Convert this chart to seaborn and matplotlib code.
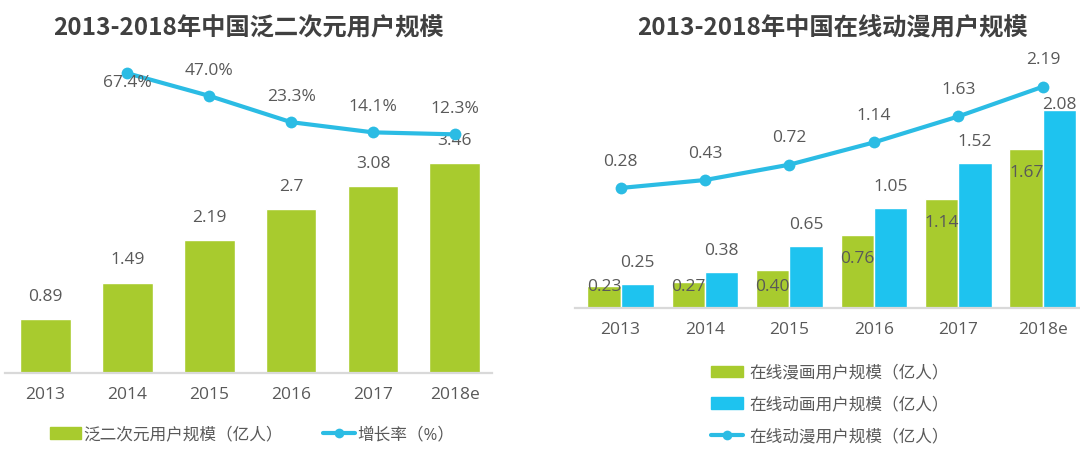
import numpy as np
import pandas as pd
import seaborn as sns
import matplotlib.pyplot as plt
from matplotlib.patches import Patch
from matplotlib.lines import Line2D

sns.set_style("white")
plt.rcParams['font.family'] = ['Open Sans', 'Noto Sans CJK SC', 'DejaVu Sans']

# data
years = ['2013', '2014', '2015', '2016', '2017', '2018e']
acg_users = [0.89, 1.49, 2.19, 2.7, 3.08, 3.46]
growth_years = ['2014', '2015', '2016', '2017', '2018e']
growth_rate = [67.4, 47.0, 23.3, 14.1, 12.3]
growth_labels = ['67.4%', '47.0%', '23.3%', '14.1%', '12.3%']

comic_users = [0.23, 0.27, 0.40, 0.76, 1.14, 1.67]
comic_labels = ['0.23', '0.27', '0.40', '0.76', '1.14', '1.67']
anime_users = [0.25, 0.38, 0.65, 1.05, 1.52, 2.08]
acg_online = [0.28, 0.43, 0.72, 1.14, 1.63, 2.19]

title_left = '2013-2018年中国泛二次元用户规模'
title_right = '2013-2018年中国在线动漫用户规模'
legend_left = ['泛二次元用户规模（亿人）', '增长率（%）']
legend_right = ['在线漫画用户规模（亿人）', '在线动画用户规模（亿人）', '在线动漫用户规模（亿人）']

GREEN = '#A8CB2E'
BLUE = '#1EC3EF'
LINE = '#2BBCE4'
TXT = '#595959'
AXIS = '#D9D9D9'

fig = plt.figure(figsize=(10.8, 4.5), dpi=100)


def style_axes(ax, xlim):
    for s in ['top', 'left', 'right']:
        ax.spines[s].set_visible(False)
    ax.spines['bottom'].set_color(AXIS)
    ax.spines['bottom'].set_linewidth(1.6)
    ax.set_yticks([])
    ax.set_xlabel('')
    ax.set_ylabel('')
    ax.tick_params(axis='x', length=0, pad=10, labelsize=12.5, labelcolor=TXT)
    ax.set_xlim(*xlim)


# ---- left chart ----
ax1 = fig.add_axes([0.005, 0.171, 0.451, 0.696])
sns.barplot(x=years, y=acg_users, color=GREEN, saturation=1, width=0.62, ax=ax1)
style_axes(ax1, (-0.49, 5.46))
ax1.set_ylim(0, 5.16)
for bar, v in zip(ax1.patches, acg_users):
    ax1.annotate(f'{v:g}', (bar.get_x() + bar.get_width() / 2, v), xytext=(0, 16),
                 textcoords='offset points', ha='center', va='center',
                 fontsize=12.5, color=TXT)

ax1b = ax1.twinx()
gpos = [years.index(y) for y in growth_years]
sns.lineplot(x=gpos, y=growth_rate, color=LINE, lw=3, marker='o', markersize=8.5,
             markeredgewidth=0, ax=ax1b)
ax1b.set_ylim(-203, 79.5)
ax1b.axis('off')
for i, (x, v, lab) in enumerate(zip(gpos, growth_rate, growth_labels)):
    dy = -7 if i == 0 else 18
    ax1b.annotate(lab, (x, v), xytext=(0, dy), textcoords='offset points',
                  ha='center', va='center', fontsize=12.5, color=TXT)

# ---- right chart ----
ax2 = fig.add_axes([0.532, 0.316, 0.468, 0.529])
df = pd.DataFrame({
    'year': years * 2,
    'value': comic_users + anime_users,
    'series': [legend_right[0]] * 6 + [legend_right[1]] * 6,
})
sns.barplot(data=df, x='year', y='value', hue='series', palette=[GREEN, BLUE],
            saturation=1, width=0.79, legend=False, ax=ax2)
style_axes(ax2, (-0.545, 5.44))
ax2.set_ylim(0, 2.5)

green_bars, blue_bars = ax2.containers[0], ax2.containers[1]
for bar, v, lab in zip(green_bars, comic_users, comic_labels):
    ax2.text(bar.get_x() + bar.get_width() / 2, max(v - 0.25, 0.22), lab,
             ha='center', va='center', fontsize=12.5, color=TXT)
for bar, v in zip(blue_bars, anime_users):
    ax2.text(bar.get_x() + bar.get_width() / 2, min(v + 0.22, 2.13), f'{v:.2f}',
             ha='center', va='center', fontsize=12.5, color=TXT)

ax2b = ax2.twinx()
sns.lineplot(x=np.arange(len(years)), y=acg_online, color=LINE, lw=3, marker='o',
             markersize=8.5, markeredgewidth=0, ax=ax2b)
ax2b.set_ylim(-1.98, 2.51)
ax2b.axis('off')
for x, v in enumerate(acg_online):
    ax2b.annotate(f'{v:.2f}', (x, v), xytext=(0, 19), textcoords='offset points',
                  ha='center', va='center', fontsize=12.5, color=TXT)

# ---- titles ----
title_font = ['Noto Sans CJK SC', 'DejaVu Sans']
fig.text(248 / 1080, 1 - 28 / 450, title_left, ha='center', va='center',
         fontsize=17.5, fontweight='bold', color='#404040', family=title_font)
fig.text(832 / 1080, 1 - 28 / 450, title_right, ha='center', va='center',
         fontsize=17.5, fontweight='bold', color='#404040', family=title_font)

# ---- legends ----
h_bar = Patch(color=GREEN)
h_blue = Patch(color=BLUE)
h_line = Line2D([], [], color=LINE, lw=3, marker='o', markersize=7, markeredgewidth=0)

fig.legend([h_bar, h_line], legend_left, loc='center', ncol=2,
           bbox_to_anchor=(252 / 1080, 1 - 435 / 450), frameon=False,
           fontsize=12, labelcolor=TXT, handlelength=1.9, handletextpad=0.15,
           columnspacing=2.4)
fig.legend([h_bar, h_blue, h_line], legend_right, loc='center', ncol=1,
           bbox_to_anchor=(830 / 1080, 1 - 405 / 450), frameon=False,
           fontsize=12, labelcolor=TXT, handlelength=1.9, handletextpad=0.4,
           labelspacing=0.95)

fig.savefig('out.png', dpi=100)
